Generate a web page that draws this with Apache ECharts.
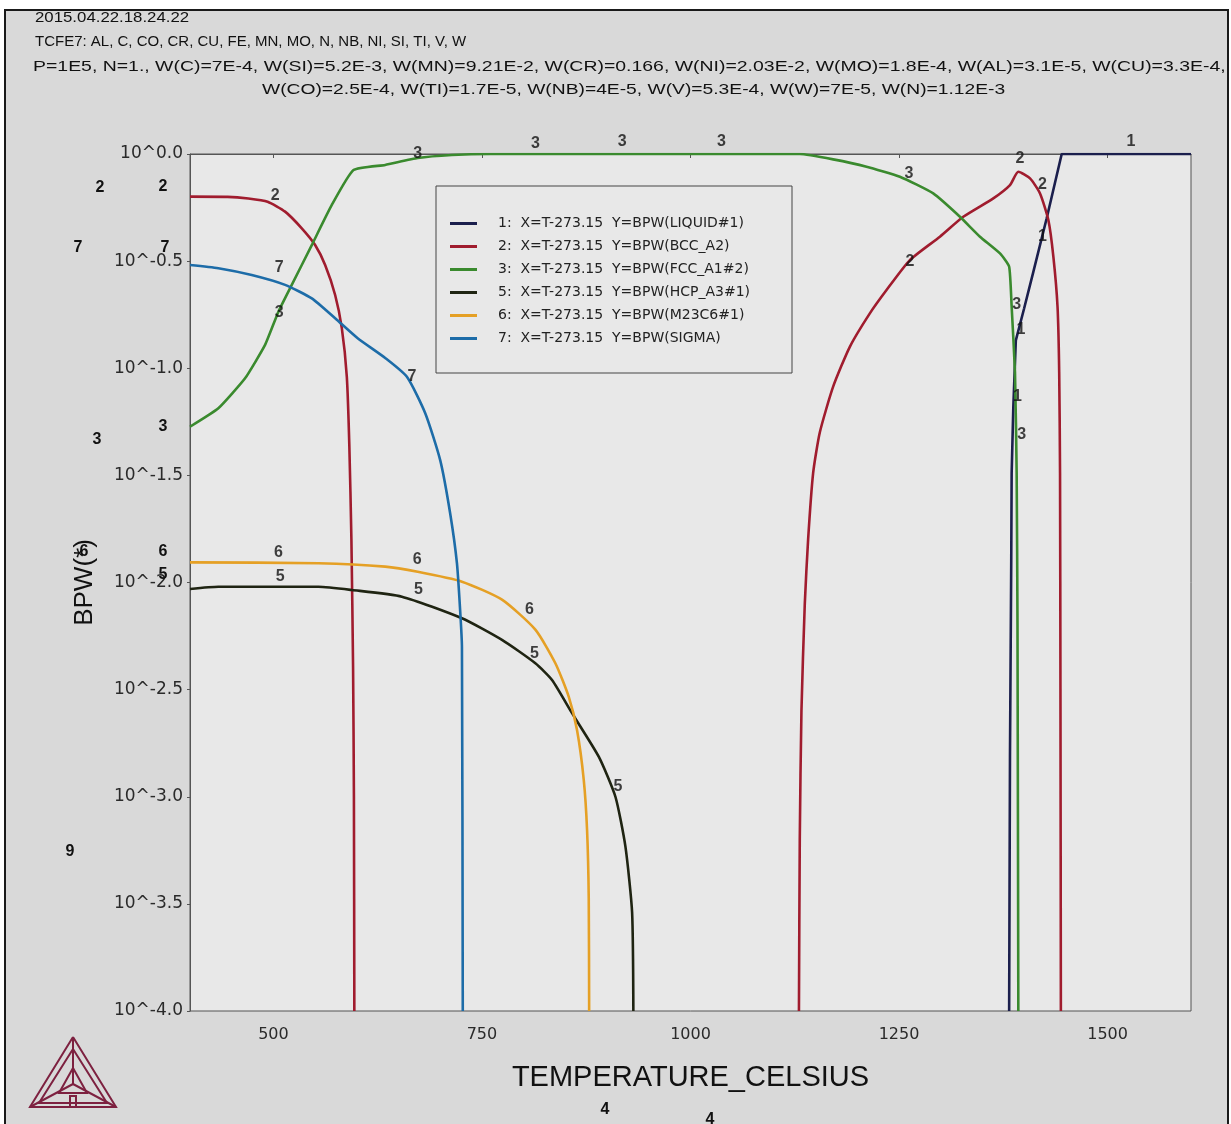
<!DOCTYPE html>
<html>
<head>
<meta charset="utf-8">
<script src="https://cdn.jsdelivr.net/npm/echarts@6/dist/echarts.min.js"></script>
<style>
  html, body { margin: 0; padding: 0; background: #ffffff; }
  #chart { width: 1231px; height: 1124px; }
</style>
</head>
<body>
<div id="chart"></div>
<script>
// Phase fractions (BPW) against temperature in °C; values are log10(BPW).
const liquidT   = [1382, 1383, 1384.5, 1385, 1387, 1390, 1400, 1411, 1427, 1445, 1600];
const liquidLog = [-4, -2.8, -1.9, -1.49, -1.18, -0.87, -0.72, -0.55, -0.30, 0, 0];

const bccLowT   = [400, 445, 470, 493, 514, 534, 550, 562, 574, 582, 588, 591, 593.5, 595.5, 596.5, 597];
const bccLowLog = [-0.199, -0.20, -0.208, -0.223, -0.269, -0.347, -0.425, -0.518, -0.658, -0.813, -1.04, -1.36, -1.8, -2.4, -3.0, -4];

const bccHighT   = [1130, 1131, 1133, 1137, 1141, 1147, 1155, 1171, 1191, 1215, 1235, 1263, 1299, 1327, 1363, 1383, 1393, 1407, 1419, 1429, 1435, 1440, 1442, 1443, 1443.5, 1444];
const bccHighLog = [-4, -3.2, -2.6, -2.1, -1.8, -1.49, -1.30, -1.086, -0.90, -0.744, -0.635, -0.495, -0.386, -0.293, -0.207, -0.145, -0.083, -0.114, -0.184, -0.308, -0.479, -0.713, -1.02, -1.49, -2.5, -4];

const fccT   = [400, 434, 466, 490, 506, 522, 546, 570, 596, 634, 673, 714, 760, 1131, 1171, 1211, 1251, 1291, 1323, 1347, 1371, 1382, 1385, 1389, 1391, 1392, 1393];
const fccLog = [-1.273, -1.187, -1.047, -0.891, -0.736, -0.611, -0.425, -0.238, -0.075, -0.051, -0.019, -0.005, 0, 0, -0.025, -0.059, -0.106, -0.184, -0.293, -0.386, -0.464, -0.526, -0.713, -1.02, -1.49, -2.2, -4];

const hcpT   = [400, 434, 554, 594, 654, 726, 774, 814, 834, 858, 890, 910, 922, 930, 931.5];
const hcpLog = [-2.03, -2.02, -2.02, -2.035, -2.066, -2.167, -2.268, -2.377, -2.455, -2.61, -2.813, -3.0, -3.233, -3.54, -4];

const m23c6T   = [400, 554, 634, 673, 726, 774, 814, 838, 854, 864, 872, 876, 878, 878.5];
const m23c6Log = [-1.906, -1.91, -1.926, -1.95, -1.996, -2.08, -2.22, -2.377, -2.533, -2.69, -2.92, -3.155, -3.47, -4];

const sigmaT   = [400, 434, 474, 514, 546, 574, 601, 634, 660, 682, 700, 712, 720, 724, 726, 727];
const sigmaLog = [-0.518, -0.533, -0.565, -0.611, -0.674, -0.767, -0.86, -0.952, -1.04, -1.21, -1.43, -1.68, -1.91, -2.14, -2.30, -4];

// Curve number tags placed along the lines
const tagT    = [502, 507, 507, 673, 814, 918, 1037, 1528, 666, 1262, 1263, 1395, 1422, 1422, 1391, 1396, 1392, 1397, 506, 508, 672.5, 674, 807, 813, 913];
const tagLog  = [-0.196, -0.532, -0.742, 0, 0.05, 0.056, 0.056, 0.056, -1.04, -0.093, -0.504, -0.02, -0.145, -0.386, -0.705, -0.82, -1.13, -1.31, -1.861, -1.973, -1.895, -2.032, -2.128, -2.334, -2.953];
const tagText = ['2', '7', '3', '3', '3', '3', '3', '1', '7', '3', '2', '2', '2', '1', '3', '1', '1', '3', '6', '5', '6', '5', '6', '5', '5'];

const xTicks = [500, 750, 1000, 1250, 1500];

const legendNames = [
  '1:  X=T-273.15  Y=BPW(LIQUID#1)',
  '2:  X=T-273.15  Y=BPW(BCC_A2)',
  '3:  X=T-273.15  Y=BPW(FCC_A1#2)',
  '5:  X=T-273.15  Y=BPW(HCP_A3#1)',
  '6:  X=T-273.15  Y=BPW(M23C6#1)',
  '7:  X=T-273.15  Y=BPW(SIGMA)'
];

const headerLines = [
  '2015.04.22.18.24.22',
  'TCFE7: AL, C, CO, CR, CU, FE, MN, MO, N, NB, NI, SI, TI, V, W',
  'P=1E5, N=1., W(C)=7E-4, W(SI)=5.2E-3, W(MN)=9.21E-2, W(CR)=0.166, W(NI)=2.03E-2, W(MO)=1.8E-4, W(AL)=3.1E-5, W(CU)=3.3E-4,',
  'W(CO)=2.5E-4, W(TI)=1.7E-5, W(NB)=4E-5, W(V)=5.3E-4, W(W)=7E-5, W(N)=1.12E-3'
];

const FONT = "'Liberation Sans', Arial, sans-serif";
const WIDE = "'DejaVu Sans', Verdana, sans-serif";
const colors = {
  liquid: '#1b1f4d',
  bcc: '#a01c2e',
  fcc: '#3a8a2e',
  hcp: '#1f2412',
  m23c6: '#e5a025',
  sigma: '#1d6ca8'
};

function pairs(t, v) { return t.map((x, i) => [x, v[i]]); }

function lineSeries(name, t, v, color, smooth) {
  return {
    type: 'line', name: name, data: pairs(t, v),
    showSymbol: false, symbol: 'none', smooth: smooth,
    color: color,
    lineStyle: { color: color, width: 2.6 },
    silent: true, z: 3
  };
}

const chart = echarts.init(document.getElementById('chart'), null, { renderer: 'canvas' });

// Free-standing tags sitting outside the plot frame
const strayTags = [
  ['2', 100, 188], ['2', 163, 187], ['7', 78, 248], ['7', 165, 248],
  ['3', 97, 440], ['3', 163, 427], ['6', 163, 552], ['5', 163, 575],
  ['6', 84, 552], ['9', 70, 852], ['4', 605, 1110], ['4', 710, 1120]
];

const graphics = [
  { type: 'rect', shape: { x: 0, y: 0, width: 1231, height: 9 }, style: { fill: '#ffffff' }, z: 50 },
  { type: 'rect', shape: { x: 0, y: 0, width: 4, height: 1124 }, style: { fill: '#ffffff' }, z: 50 },
  { type: 'rect', shape: { x: 1229, y: 0, width: 2, height: 1124 }, style: { fill: '#ffffff' }, z: 50 },
  { type: 'polyline', shape: { points: [[5, 1130], [5, 10], [1228, 10], [1228, 1130]] }, style: { stroke: '#1a1a1a', lineWidth: 2, fill: null }, z: 51 }
];

// Header lines: left position, vertical centre and horizontal stretch
const headerLayout = [[35, 18, 1.12], [35, 42, 1.0], [33, 67, 1.296], [262, 90, 1.283]];
headerLines.forEach((txt, i) => {
  const p = headerLayout[i];
  graphics.push({
    type: 'text', x: p[0], y: p[1], scaleX: p[2], z: 60,
    style: { text: txt, font: '15px ' + FONT, fill: '#111', align: 'left', verticalAlign: 'middle', textAlign: 'left', textVerticalAlign: 'middle' }
  });
});

strayTags.forEach(s => {
  graphics.push({
    type: 'text', x: s[1], y: s[2], z: 60,
    style: { text: s[0], font: 'bold 16px ' + FONT, fill: '#111', align: 'center', verticalAlign: 'middle', textAlign: 'center', textVerticalAlign: 'middle' }
  });
});

// Thermo-Calc style triangle logo
const logoColor = '#7d2140';
const logoLines = [
  [[73, 1037], [30, 1107], [116, 1107], [73, 1037]],
  [[73, 1049], [39, 1103], [107, 1103], [73, 1049]],
  [[73, 1037], [73, 1084]],
  [[30, 1107], [73, 1084], [116, 1107]],
  [[73, 1068], [59, 1093], [87, 1093], [73, 1068]],
  [[70, 1107], [70, 1096], [76, 1096], [76, 1107]]
];
logoLines.forEach(pts => {
  graphics.push({ type: 'polyline', shape: { points: pts }, style: { stroke: logoColor, lineWidth: 2, fill: null }, z: 60 });
});

const option = {
  backgroundColor: '#d9d9d9',
  animation: false,
  textStyle: { fontFamily: FONT },
  grid: {
    left: 190, right: 40, top: 154, bottom: 113,
    show: true, backgroundColor: '#e8e8e8', borderColor: '#555555', borderWidth: 1
  },
  legend: {
    orient: 'vertical', left: 436, top: 186,
    padding: [30, 42, 27, 14],
    backgroundColor: '#e8e8e8', borderColor: '#444', borderWidth: 1, borderRadius: 0,
    icon: 'rect', itemWidth: 27, itemHeight: 3, itemGap: 8,
    textStyle: { fontFamily: WIDE, fontSize: 14, color: '#222', lineHeight: 15, padding: [0, 0, 0, 16] },
    data: legendNames,
    selectedMode: false
  },
  xAxis: {
    type: 'value', min: 400, max: 1600,
    name: 'TEMPERATURE_CELSIUS', nameLocation: 'middle', nameGap: 52,
    nameTextStyle: { fontFamily: FONT, fontSize: 29, color: '#111' },
    axisLine: { show: true, lineStyle: { color: '#555', width: 1 } },
    axisTick: { show: true, length: 4, customValues: xTicks, lineStyle: { color: '#555' } },
    axisLabel: {
      customValues: xTicks, fontFamily: WIDE, fontSize: 16, color: '#2a2a2a', margin: 16,
      formatter: v => String(v)
    },
    splitLine: { show: false }
  },
  yAxis: {
    type: 'value', min: -4, max: 0, interval: 0.5,
    name: 'BPW(*)', nameLocation: 'middle', nameGap: 92, nameRotate: 90,
    nameTextStyle: { fontFamily: FONT, fontSize: 26, color: '#111' },
    axisLine: { show: true, lineStyle: { color: '#555', width: 1 } },
    axisTick: { show: true, length: 3, lineStyle: { color: '#555' } },
    axisLabel: {
      fontFamily: WIDE, fontSize: 17, color: '#2a2a2a', margin: 7,
      formatter: v => '10^' + v.toFixed(1)
    },
    splitLine: { show: false }
  },
  graphic: graphics,
  series: [
    lineSeries(legendNames[0], liquidT, liquidLog, colors.liquid, false),
    lineSeries(legendNames[1], bccLowT, bccLowLog, colors.bcc, 0.2),
    lineSeries(legendNames[1], bccHighT, bccHighLog, colors.bcc, 0.2),
    lineSeries(legendNames[2], fccT, fccLog, colors.fcc, 0.15),
    lineSeries(legendNames[3], hcpT, hcpLog, colors.hcp, 0.2),
    lineSeries(legendNames[4], m23c6T, m23c6Log, colors.m23c6, 0.2),
    lineSeries(legendNames[5], sigmaT, sigmaLog, colors.sigma, 0.2),
    {
      type: 'scatter', name: 'tags', silent: true, clip: false, z: 5,
      symbolSize: 0,
      data: tagT.map((t, i) => ({ value: [t, tagLog[i]], tag: tagText[i] })),
      label: {
        show: true, position: 'inside', color: '#111', fontWeight: 'bold', fontSize: 16,
        formatter: p => p.data.tag
      }
    }
  ]
};

chart.setOption(option);
</script>
</body>
</html>
